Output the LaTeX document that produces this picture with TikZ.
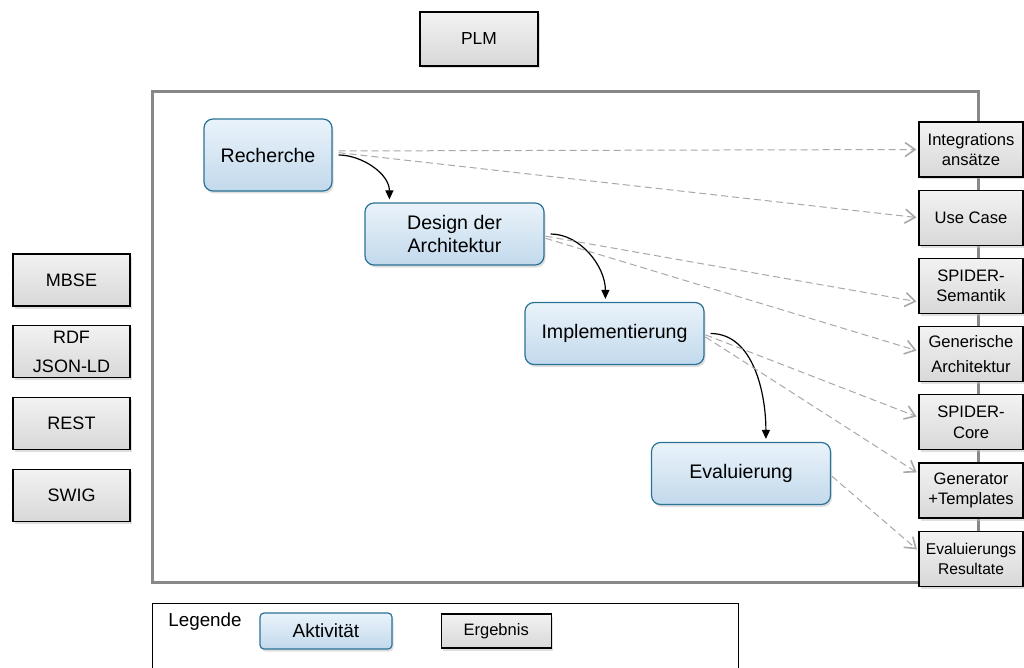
\documentclass[tikz,border=0pt]{standalone}
\usepackage{fontspec}
\setmainfont{Liberation Sans}
\usetikzlibrary{positioning,chains,arrows.meta,shadows,calc}
\definecolor{aktrand}{HTML}{2A7396}
\definecolor{akttop}{HTML}{EAF3FA}
\definecolor{aktbottom}{HTML}{C2D9EC}
\definecolor{ergtop}{HTML}{F2F2F2}
\definecolor{ergbottom}{HTML}{D8D8D8}
\definecolor{rahmengrau}{HTML}{888888}
\definecolor{strichgrau}{HTML}{A8A8A8}
\tikzset{
    aktivitaet/.style={
      rectangle,
      rounded corners=9pt,
      draw=aktrand, line width=1.2pt,
      top color=akttop,
      bottom color=aktbottom,
      minimum width=179pt,
      minimum height=62pt,
      align=center,
      font=\fontsize{19.6}{23.5}\selectfont,
      drop shadow={shadow xshift=1.5pt, shadow yshift=-2.5pt, fill=black!25}},
    ergebnis/.style={
      rectangle,
      draw=black, line width=1.2pt,
      top color=ergtop,
      bottom color=ergbottom,
      align=center,
      drop shadow={shadow xshift=1.5pt, shadow yshift=-2.5pt, fill=black!25}},
    rechtsbox/.style={minimum width=104pt, minimum height=55pt,
      font=\fontsize{16.6}{20.5}\selectfont},
    linksbox/.style={minimum width=117pt, minimum height=52pt,
      font=\fontsize{18}{21.6}\selectfont},
    rahmen/.style={draw=rahmengrau, line width=3pt, inner sep=0pt,
      minimum width=826pt, minimum height=490pt},
    fluss/.style={draw=black, line width=1.2pt,
      -{Triangle[length=9pt,width=8pt]}, shorten <=6pt, shorten >=3pt},
    liefert/.style={draw=strichgrau, line width=1pt, dash pattern=on 7pt off 4pt,
      -{Straight Barb[length=10pt,width=14pt,line width=1.6pt]},
      shorten <=1pt, shorten >=2pt},
}
\begin{document}
\begin{tikzpicture}[x=1pt,y=-1pt]
    \useasboundingbox (0,0) rectangle (1024,668);
    \clip (0,0) rectangle (1024,668);

    \node[ergebnis, minimum width=118pt, minimum height=54pt,
      font=\fontsize{17.4}{20}\selectfont] (plm) at (479,39) {PLM};

    % Rahmen
    \node[rahmen] (projekt) at (565,337) {};

    % Aktivitaeten
    \node[aktivitaet, minimum width=128pt, minimum height=72pt] (recherche) at (268,155) {Recherche};
    \node[aktivitaet] (design) at (454.5,234) {Design der\\Architektur};
    \node[aktivitaet] (impl) at (614.5,333.5) {Implementierung};
    \node[aktivitaet] (eval) at (741,473.5) {Evaluierung};

    % Ergebnisse rechts
    \begin{scope}[start chain=rechts going below, node distance=12pt]
        \node[ergebnis, rechtsbox, on chain] (integ) at (971,149.5) {Integrations\\ansätze};
        \node[ergebnis, rechtsbox, on chain] (usecase) {Use Case};
        \node[ergebnis, rechtsbox, on chain] (semantik) {SPIDER-\\Semantik};
        \node[ergebnis, rechtsbox, on chain] (generisch) {Generische\\[5pt]Architektur};
        \node[ergebnis, rechtsbox, on chain] (core) {SPIDER-\\Core};
        \node[ergebnis, rechtsbox, on chain] (generator) {Generator\\+Templates};
        \node[ergebnis, rechtsbox, on chain, font=\fontsize{15.6}{19.5}\selectfont] (resultate) {Evaluierungs\\Resultate};
    \end{scope}

    % Technologien links
    \begin{scope}[start chain=links going below, node distance=18.5pt]
        \node[ergebnis, linksbox, on chain] (mbse) at (71.5,280) {MBSE};
        \node[ergebnis, linksbox, on chain] (rdf) {RDF\\[7pt]JSON-LD};
        \node[ergebnis, linksbox, on chain] (rest) {REST};
        \node[ergebnis, linksbox, on chain] (swig) {SWIG};
    \end{scope}

    % Ablauf
    \draw[fluss] (recherche.east) to[out=0,in=90] ([xshift=25pt]design.north west);
    \draw[fluss] (design.east) to[out=0,in=90] ([xshift=81pt]impl.north west);
    \draw[fluss] (impl.east) to[out=0,in=90] ([xshift=115pt]eval.north west);

    % Ergebnisse
    \draw[liefert, shorten <=6pt] ([yshift=4pt]recherche.east) -- (integ.west);
    \draw[liefert, shorten <=6pt] ([yshift=3pt]recherche.east) -- (usecase.west);
    \draw[liefert] ([yshift=-2pt]design.east) -- ([yshift=-16pt]semantik.west);
    \draw[liefert] ([yshift=-4pt]design.east) -- ([yshift=3pt]generisch.west);
    \draw[liefert] ([yshift=-1pt]impl.east) -- ([yshift=5pt]core.west);
    \draw[liefert] ([yshift=-3pt]impl.east) -- ([yshift=17pt]generator.west);
    \draw[liefert] ([yshift=-2pt]eval.east) -- ([yshift=8pt]resultate.west);

    % Legende
    \node[draw=black, line width=1.2pt, inner sep=0pt, anchor=north west,
      minimum width=586pt, minimum height=120pt] (legende) at (152,603) {};
    \node[font=\fontsize{18.8}{22}\selectfont] (legtitel) at (205,622) {Legende};
    \node[aktivitaet, rounded corners=4pt, minimum width=132pt, minimum height=36pt,
      font=\fontsize{19}{22}\selectfont] (legakt) at (326,631) {Aktivität};
    \node[ergebnis, right=48pt of legakt, minimum width=110pt, minimum height=34pt,
      font=\fontsize{16.5}{20}\selectfont] (legerg) {Ergebnis};
\end{tikzpicture}
\end{document}
